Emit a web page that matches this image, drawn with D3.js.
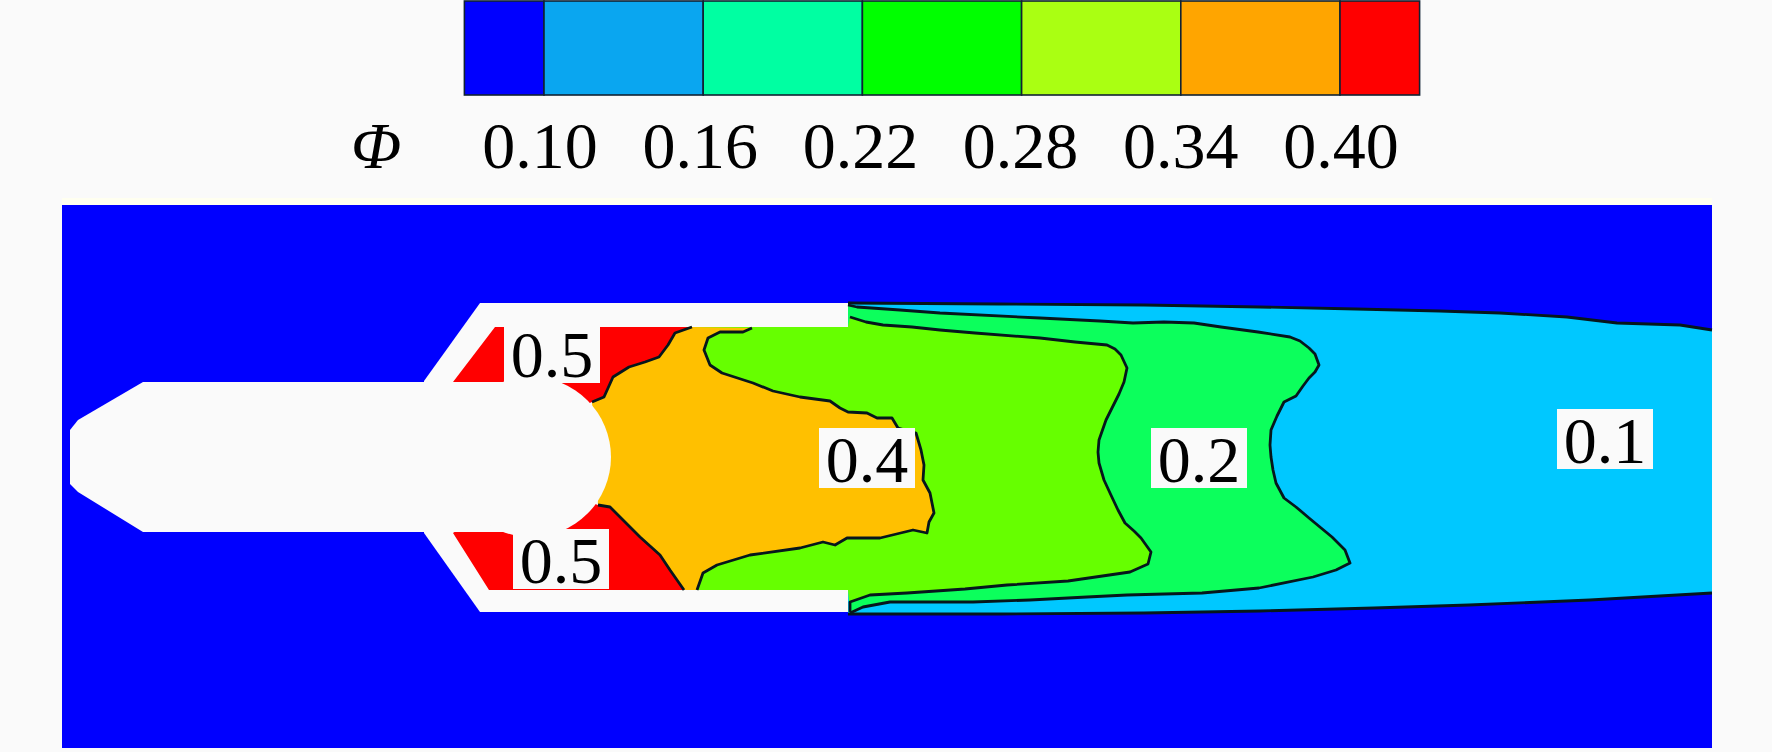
<!DOCTYPE html>
<html><head><meta charset="utf-8">
<script src="https://cdn.jsdelivr.net/npm/d3@7"></script>
<style>html,body{margin:0;padding:0;background:#fafafa;overflow:hidden}svg{display:block}text{font-family:"Liberation Serif","Times New Roman",serif;fill:#000}</style>
</head><body><svg id="c" width="1772" height="752"></svg>
<script>
// Legend
const legendBreaks=[0.07,0.10,0.16,0.22,0.28,0.34,0.40,0.43];
const legendColors=["#0000ff","#0aa6f0","#00ffa2","#00ff00","#aaff12","#ffa500","#ff0000"];
const tickValues=[0.10,0.16,0.22,0.28,0.34,0.40];
const tickLabels=["0.10","0.16","0.22","0.28","0.34","0.40"];
const legendSymbol="Φ";
// Geometry of the nozzle, in image units
const shellOutline=[[424,381],[480,303],[848,303],[848,612],[480,612],[424,533]];
const bodyOutline=[[70,430],[78,420],[143,382],[531,382],[531,532],[143,532],[78,492],[70,484]];
const bumpCircle={x:531,y:457,r:80};
// Contours
const edgeTop=[[848,303],[1000,304],[1144,305],[1260,307],[1356,309],[1440,311],[1500,313],[1567,317],[1617,323],[1680,325],[1712,330]];
const edgeBottom=[[1712,593],[1590,600],[1469,605],[1374,608],[1260,611],[1144,613],[1000,614],[848,614]];
const contour01=[[848,305],[857,307],[900,310],[940,313],[1040,318],[1100,321],[1133,323],[1164,322],[1194,323],[1221,327],[1258,332],[1290,337],[1300,341],[1309,348],[1315,354],[1319,365],[1315,372],[1309,378],[1303,386],[1296,396],[1284,402],[1277,416],[1271,430],[1270,445],[1271,457],[1273,470],[1276,483],[1284,498],[1296,507],[1309,518],[1332,537],[1345,550],[1350,563],[1336,570],[1313,577],[1259,588],[1202,593],[1127,595],[1087,597],[1030,600],[973,602],[890,602],[863,607],[850,613]];
const contour02=[[850,317],[866,322],[883,325],[912,327],[940,330],[975,333],[1040,338],[1075,342],[1107,345],[1115,349],[1121,355],[1127,368],[1124,382],[1119,394],[1112,408],[1106,420],[1099,440],[1098,452],[1099,463],[1104,480],[1110,493],[1118,510],[1125,523],[1134,531],[1141,538],[1151,552],[1148,564],[1130,572],[1068,581],[1007,585],[965,589],[907,593],[870,595],[850,602],[850,612]];
const contour04=[[752,328],[743,332],[720,332],[708,338],[704,350],[710,365],[722,373],[753,383],[773,391],[800,397],[830,401],[840,408],[848,412],[867,413],[877,418],[892,418],[898,428],[916,433],[921,450],[924,465],[923,480],[930,493],[934,513],[929,522],[927,533],[913,530],[880,538],[847,538],[835,545],[823,542],[800,548],[750,555],[717,565],[703,573],[697,590]];
const redTopEdge=[[692,327],[675,333],[668,345],[659,357],[645,362],[629,367],[613,377],[604,397],[592,402]];
const redBottomEdge=[[598,505],[610,507],[640,537],[660,555],[670,570],[684,590]];
// Region closures
const green03Wall=[[848,590],[690,590],[690,327],[848,327]];
const redTopClosure=[[530,430],[453,382],[495,327]];
const redBottomClosure=[[489,590],[453,533],[530,480]];
const contourLabels=["0.5","0.5","0.4","0.2","0.1"];
const labelCentre=[[552,377],[561,583],[867,482],[1199,482],[1605,463]];
const plotX=[62,1712], plotY=[205,748];

const svg=d3.select("#c");
const x=d3.scaleLinear().domain([62,1712]).range([62,1712]);
const y=d3.scaleLinear().domain([205,748]).range([205,748]);
const line=d3.line().x(d=>x(d[0])).y(d=>y(d[1]));
const poly=d=>line(d)+"Z";
const lg=d3.scaleLinear().domain([0.10,0.40]).range([544,1340]);
const tk=d3.scaleLinear().domain([0.10,0.40]).range([540,1341]);

// legend
svg.selectAll("rect.lg").data(legendColors).join("rect").attr("class","lg")
 .attr("x",(d,i)=>lg(legendBreaks[i])).attr("y",1)
 .attr("width",(d,i)=>lg(legendBreaks[i+1])-lg(legendBreaks[i])).attr("height",94)
 .attr("fill",d=>d).attr("stroke","#123").attr("stroke-width",1.6);
svg.selectAll("text.tk").data(tickValues).join("text").attr("class","tk")
 .attr("x",d=>tk(d)).attr("y",168).attr("text-anchor","middle").attr("font-size",66)
 .text((d,i)=>tickLabels[i]);
svg.append("text").attr("x",376).attr("y",168).attr("text-anchor","middle").attr("font-size",66)
 .attr("font-style","italic").text(legendSymbol);

// plot
svg.append("rect").attr("x",x(plotX[0])).attr("width",x(plotX[1])-x(plotX[0])).attr("y",198).attr("height",7).attr("fill","#fffff0");
svg.append("rect").attr("x",x(plotX[0])).attr("y",y(plotY[0])).attr("width",x(plotX[1])-x(plotX[0])).attr("height",y(plotY[1])-y(plotY[0])).attr("fill","#0000ff");
svg.append("path").attr("d",poly(shellOutline)).attr("fill","#fafafa");
svg.append("path").attr("d",poly(edgeTop.concat(edgeBottom))).attr("fill","#00c8ff");
svg.append("path").attr("d",poly(contour01)).attr("fill","#0cff5c");
svg.append("path").attr("d",poly(contour02.concat(green03Wall))).attr("fill","#66ff00");
svg.append("path").attr("d",poly(contour04.concat(redBottomEdge.slice().reverse(),redTopEdge.slice().reverse()))).attr("fill","#ffc000");
svg.append("path").attr("d",poly(redTopEdge.concat(redTopClosure))).attr("fill","#ff0000");
svg.append("path").attr("d",poly(redBottomEdge.concat(redBottomClosure))).attr("fill","#ff0000");
svg.append("path").attr("d",poly(bodyOutline)).attr("fill","#fafafa");
svg.append("circle").attr("cx",x(bumpCircle.x)).attr("cy",y(bumpCircle.y)).attr("r",bumpCircle.r).attr("fill","#fafafa");
// contour lines
[edgeTop,edgeBottom,contour01,contour02,contour04,redTopEdge,redBottomEdge].forEach(c=>{
 svg.append("path").attr("d",line(c)).attr("fill","none").attr("stroke","#06161c").attr("stroke-width",2.8).attr("stroke-linejoin","round");
});
// labels
const g=svg.selectAll("g.l").data(contourLabels).join("g").attr("class","l");
g.append("rect").attr("x",(d,i)=>x(labelCentre[i][0])-48).attr("y",(d,i)=>y(labelCentre[i][1])-54).attr("width",96).attr("height",60).attr("fill","#fafafa");
g.append("text").attr("x",(d,i)=>x(labelCentre[i][0])).attr("y",(d,i)=>y(labelCentre[i][1])).attr("text-anchor","middle").attr("font-size",66).text(d=>d);
</script></body></html>
